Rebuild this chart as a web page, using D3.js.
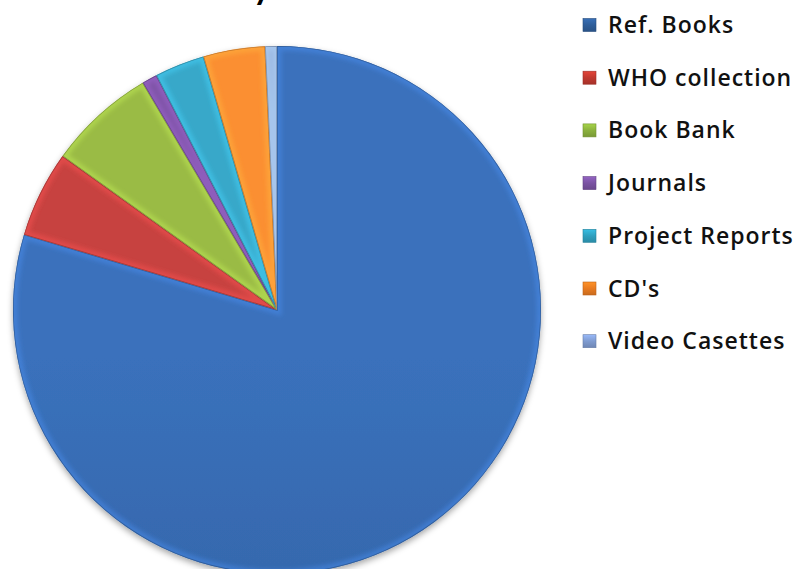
<!DOCTYPE html>
<html><head><meta charset="utf-8">
<script src="https://cdn.jsdelivr.net/npm/d3@7"></script>
<style>html,body{margin:0;padding:0;background:#fff;}svg{display:block;}</style>
</head><body>
<svg id="chart" width="803" height="569"></svg>
<script>
const title = "Library Stock";
const categories = ["Ref. Books","WHO collection","Book Bank","Journals","Project Reports","CD's","Video Casettes"];
const values = [7960, 530, 660, 93, 306, 378, 72];
const colors = ["#386db5","#c0403d","#95b443","#7a4fa0","#36a2c2","#f28a2e","#8ea9d4"];
const legendColors = ["#2f5e9a","#c0392f","#8bb13d","#7b53a3","#2fa0bf","#e87b21","#7f9bd0"];

const svg = d3.select("#chart");
const cx = 277, cy = 310, R = 264;
const defs = svg.append("defs");

const shadow = defs.append("filter").attr("id","shadow").attr("x","-10%").attr("y","-10%").attr("width","120%").attr("height","125%");
shadow.append("feDropShadow").attr("dx",0).attr("dy",3).attr("stdDeviation",3).attr("flood-color","#000").attr("flood-opacity",0.35);
const blur = defs.append("filter").attr("id","blur").attr("x","-5%").attr("y","-5%").attr("width","110%").attr("height","110%");
blur.append("feGaussianBlur").attr("stdDeviation",2);

colors.forEach((c,i)=>{
  const g = defs.append("linearGradient").attr("id","grad"+i).attr("gradientUnits","userSpaceOnUse")
    .attr("x1",0).attr("y1",cy-R).attr("x2",0).attr("y2",cy+R);
  g.append("stop").attr("offset","0%").attr("stop-color",d3.color(c).brighter(0.1));
  g.append("stop").attr("offset","100%").attr("stop-color",d3.color(c).darker(0.45));
  const lg = defs.append("linearGradient").attr("id","lgrad"+i).attr("x1",0).attr("y1",0).attr("x2",0).attr("y2",1);
  lg.append("stop").attr("offset","0%").attr("stop-color",d3.color(legendColors[i]).brighter(0.5));
  lg.append("stop").attr("offset","50%").attr("stop-color",legendColors[i]);
  lg.append("stop").attr("offset","100%").attr("stop-color",d3.color(legendColors[i]).darker(0.4));
});

// title (mostly cut off above the frame, as in the reference)
svg.append("text").attr("x",264).attr("y",-1).attr("text-anchor","middle")
  .attr("font-family","Lato, 'Open Sans', sans-serif").attr("font-weight","bold").attr("font-size",34)
  .attr("fill","#000").text(title);

const pie = d3.pie().sort(null).value(d=>d)(values);
const arc = d3.arc().innerRadius(0).outerRadius(R);

const g = svg.append("g").attr("transform",`translate(${cx},${cy})`);
const slices = g.append("g").attr("filter","url(#shadow)");
pie.forEach((p,i)=>{
  defs.append("clipPath").attr("id","clip"+i)
    .append("path").attr("transform",`translate(${cx},${cy})`).attr("d",arc(p));
});
slices.selectAll("path.slice").data(pie).join("path").attr("class","slice")
  .attr("d",arc).attr("fill",(d,i)=>`url(#grad${i})`);

// bevel highlights
const bevel = svg.append("g");
pie.forEach((p,i)=>{
  const gg = bevel.append("g").attr("clip-path",`url(#clip${i})`);
  gg.append("path").attr("transform",`translate(${cx},${cy})`).attr("d",arc(p))
    .attr("fill","none").attr("stroke",d3.color(colors[i]).brighter(0.8)).attr("stroke-opacity",0.45)
    .attr("stroke-width",9).attr("filter","url(#blur)");
  gg.append("path").attr("transform",`translate(${cx},${cy})`).attr("d",arc(p))
    .attr("fill","none").attr("stroke",d3.color(colors[i]).darker(1.2)).attr("stroke-opacity",0.6)
    .attr("stroke-width",1.5);
});

// legend
const legend = svg.append("g");
const ly0 = 25, lstep = 52.7;
categories.forEach((c,i)=>{
  const y = ly0 + i*lstep;
  legend.append("rect").attr("x",583).attr("y",y-6.5).attr("width",13).attr("height",13)
    .attr("fill",`url(#lgrad${i})`).attr("stroke",d3.color(legendColors[i]).darker(0.6)).attr("stroke-width",0.6);
  legend.append("text").attr("x",608).attr("y",y+8)
    .attr("font-family","'Open Sans', Lato, sans-serif").attr("font-weight",600).attr("font-size",23)
    .attr("letter-spacing",1).attr("fill","#111").text(c);
});
</script>
</body></html>
